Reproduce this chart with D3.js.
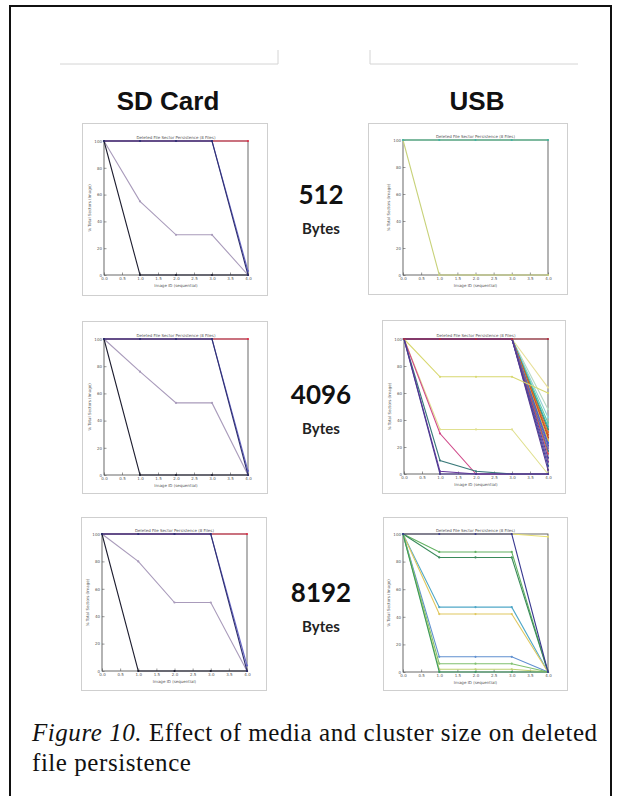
<html lang="en">
<head>
    <meta charset="UTF-8">
    <title>Figure 10</title>
    <script src="https://cdn.jsdelivr.net/npm/d3@7"></script>
    <style>
        body{ margin:0; background:#fff; }
        .frame{ fill:none; stroke:#cfcfcf; stroke-width:1px; }
        .plotbox{ fill:#fff; stroke:#444; stroke-width:0.8px; }
        .series{ fill:none; stroke-width:1.1px; }
        .tiny{ font-family:"DejaVu Sans", sans-serif; font-size:4px; fill:#555; }
        .axis path{ display:none; }
        .axis line{ stroke:#555; stroke-width:0.6px; }
        .axis text{ font-family:"DejaVu Sans", sans-serif; font-size:4px; fill:#555; }
        .head{ font-family:"Liberation Sans", Arial, sans-serif; font-weight:bold; font-size:26px; fill:#111; }
        .size{ font-family:Lato, "Open Sans", sans-serif; font-weight:bold; font-size:26px; fill:#111; }
        .bytes{ font-family:Lato, "Open Sans", sans-serif; font-weight:bold; font-size:15px; fill:#222; }
        .caption{ font-family:"Liberation Serif", "DejaVu Serif", serif; font-size:25px; letter-spacing:0.55px; fill:#111; }
    </style>
</head>
<body>
<svg id="svg"></svg>
<script>
    var WIDTH = 619;
    var HEIGHT = 796;

    // ----- data -----
    var mediaNames = ["SD Card", "USB"];
    var clusterSizes = ["512", "4096", "8192"];
    var sizeUnit = "Bytes";
    var imageIds = [0, 1, 2, 3, 4];
    var xTicks = [0, 0.5, 1, 1.5, 2, 2.5, 3, 3.5, 4];
    var yTicks = [0, 20, 40, 60, 80, 100];
    var plotTitle = "Deleted File Sector Persistence (8 Files)";
    var xLabel = "Image ID (sequential)";
    var yLabel = "% Total Sectors (Image)";
    var captionLabel = "Figure 10.";
    var captionLines = [" Effect of media and cluster size on deleted", "file persistence"];

    // SD card, 512 bytes
    var sd512 = [
        [100, 100, 100, 100, 100],
        [100, 55, 30, 30, 0],
        [100, 100, 100, 100, 3],
        [100, 0, 0, 0, 0],
        [100, 100, 100, 100, 0]
    ];
    // SD card, 4096 bytes
    var sd4096 = [
        [100, 100, 100, 100, 100],
        [100, 76, 53, 53, 0],
        [100, 100, 100, 100, 3],
        [100, 0, 0, 0, 0],
        [100, 100, 100, 100, 0]
    ];
    // SD card, 8192 bytes
    var sd8192 = [
        [100, 100, 100, 100, 100],
        [100, 80, 50, 50, 0],
        [100, 100, 100, 100, 4],
        [100, 0, 0, 0, 0],
        [100, 100, 100, 100, 0]
    ];
    // USB, 512 bytes
    var usb512 = [
        [100, 0, 0, 0, 0],
        [100, 100, 100, 100, 100],
        [100, 100, 100, 100, 100]
    ];
    // USB, 4096 bytes
    var usb4096 = [
        [100, 100, 100, 100, 64],
        [100, 100, 100, 100, 48],
        [100, 100, 100, 100, 42],
        [100, 100, 100, 100, 38],
        [100, 100, 100, 100, 35],
        [100, 100, 100, 100, 33],
        [100, 100, 100, 100, 31],
        [100, 100, 100, 100, 29],
        [100, 100, 100, 100, 27],
        [100, 100, 100, 100, 25],
        [100, 100, 100, 100, 23],
        [100, 100, 100, 100, 21],
        [100, 100, 100, 100, 19],
        [100, 100, 100, 100, 17],
        [100, 100, 100, 100, 15],
        [100, 100, 100, 100, 12],
        [100, 100, 100, 100, 9],
        [100, 100, 100, 100, 6],
        [100, 100, 100, 100, 3],
        [100, 72, 72, 72, 60],
        [100, 33, 33, 33, 0],
        [100, 30, 0, 0, 0],
        [100, 10, 2, 0, 0],
        [100, 2, 0, 0, 0],
        [100, 0, 0, 0, 0],
        [100, 100, 100, 100, 100]
    ];
    // USB, 8192 bytes
    var usb8192 = [
        [100, 100, 100, 100, 98],
        [100, 87, 87, 87, 0],
        [100, 83, 83, 83, 0],
        [100, 47, 47, 47, 0],
        [100, 42, 42, 42, 0],
        [100, 11, 11, 11, 0],
        [100, 6, 6, 6, 0],
        [100, 2, 2, 2, 0],
        [100, 0, 0, 0, 0],
        [100, 100, 100, 100, 0]
    ];

    // ----- styles -----
    var sdColors = ["#e0304a", "#a99bbb", "#6868c8", "#1e1e30", "#303070"];
    var usb512Colors = ["#c8d27a", "#c8d27a", "#3fb0a8"];
    var usb4096Colors = ["#e8e09a", "#b8d8c0", "#8fd0d8", "#6ad0a0", "#40b0c8", "#2a9a70",
                         "#e07830", "#d05a28", "#c84020", "#e8c040", "#3a70c8", "#5a50b8",
                         "#8a60c0", "#2a8a8a", "#e05050", "#4a4aa0", "#7a40a0", "#3050a0",
                         "#5a3a90", "#d8d870", "#e0e090", "#d04a8a", "#3a7a7a", "#6a3aa0",
                         "#4a3a90", "#b03040"];
    var usb8192Colors = ["#e8e070", "#60b060", "#3a8a5a", "#50a8c8", "#e0c860",
                         "#6090d0", "#80c070", "#c0d070", "#3a9a60", "#3a3a90"];

    // ----- layout -----
    var panels = [
        {series: sd512,   colors: sdColors,      frame: [82, 123, 267, 295], plot: [104, 141, 248, 275]},
        {series: sd4096,  colors: sdColors,      frame: [82, 321, 267, 493], plot: [104, 339, 248, 475]},
        {series: sd8192,  colors: sdColors,      frame: [81, 517, 266, 690], plot: [102, 534, 247, 671]},
        {series: usb512,  colors: usb512Colors,  frame: [368, 123, 567, 294], plot: [403, 140, 548, 275]},
        {series: usb4096, colors: usb4096Colors, frame: [382, 320, 565, 493], plot: [404, 339, 548, 474]},
        {series: usb8192, colors: usb8192Colors, frame: [383, 517, 567, 690], plot: [403, 534, 548, 672]}
    ];

    var svg = d3.select("#svg")
                .attr("width", WIDTH)
                .attr("height", HEIGHT);

    // page border
    svg.append("path")
       .attr("d", "M10,800 L10,6 L611,6 L611,800")
       .attr("fill", "none")
       .attr("stroke", "#111")
       .attr("stroke-width", 2);

    // thin rules above the column headers
    svg.append("path")
       .attr("d", "M60,64 L278,64 L278,50 M370,50 L370,64 L578,64")
       .attr("fill", "none")
       .attr("stroke", "#d4d4d4")
       .attr("stroke-width", 1);

    var headX = [168, 477];
    svg.selectAll(".head")
       .data(mediaNames)
       .enter()
       .append("text")
       .attr("class", "head")
       .attr("x", function(d, i){ return headX[i]; })
       .attr("y", 110)
       .attr("text-anchor", "middle")
       .text(function(d){ return d; });

    var sizeY = [204, 404, 602];
    clusterSizes.forEach(function(s, i){
        svg.append("text")
           .attr("class", "size")
           .attr("x", 321)
           .attr("y", sizeY[i])
           .attr("text-anchor", "middle")
           .text(s);
        svg.append("text")
           .attr("class", "bytes")
           .attr("x", 321)
           .attr("y", sizeY[i] + 30)
           .attr("text-anchor", "middle")
           .text(sizeUnit);
    });

    // small matplotlib-style plots
    panels.forEach(function(p){
        var g = svg.append("g");

        g.append("rect")
         .attr("class", "frame")
         .attr("x", p.frame[0] + 0.5)
         .attr("y", p.frame[1] + 0.5)
         .attr("width", p.frame[2] - p.frame[0])
         .attr("height", p.frame[3] - p.frame[1]);

        var xScale = d3.scaleLinear().domain([0, 4]).range([p.plot[0], p.plot[2]]);
        var yScale = d3.scaleLinear().domain([0, 100]).range([p.plot[3], p.plot[1]]);

        g.append("rect")
         .attr("class", "plotbox")
         .attr("x", xScale(0))
         .attr("y", yScale(100))
         .attr("width", xScale(4) - xScale(0))
         .attr("height", yScale(0) - yScale(100));

        g.append("g")
         .attr("class", "axis")
         .attr("transform", "translate(0," + yScale(0) + ")")
         .call(d3.axisBottom(xScale).tickValues(xTicks).tickSize(-2.5).tickPadding(2)
                 .tickFormat(d3.format(".1f")));

        g.append("g")
         .attr("class", "axis")
         .attr("transform", "translate(" + xScale(0) + ",0)")
         .call(d3.axisLeft(yScale).tickValues(yTicks).tickSize(-2.5).tickPadding(2));

        g.append("text")
         .attr("class", "tiny")
         .attr("x", (xScale(0) + xScale(4)) / 2)
         .attr("y", yScale(100) - 2)
         .attr("text-anchor", "middle")
         .text(plotTitle);

        g.append("text")
         .attr("class", "tiny")
         .attr("x", (xScale(0) + xScale(4)) / 2)
         .attr("y", yScale(0) + 12)
         .attr("text-anchor", "middle")
         .text(xLabel);

        g.append("text")
         .attr("class", "tiny")
         .attr("transform", "translate(" + (xScale(0) - 13) + "," + ((yScale(0) + yScale(100)) / 2) + ") rotate(-90)")
         .attr("text-anchor", "middle")
         .text(yLabel);

        var line = d3.line()
                     .x(function(d, i){ return xScale(imageIds[i]); })
                     .y(function(d){ return yScale(d); });

        p.series.forEach(function(vals, k){
            var c = p.colors[k % p.colors.length];
            g.append("path")
             .datum(vals)
             .attr("class", "series")
             .attr("stroke", c)
             .attr("d", line);
            g.selectAll(null)
             .data(vals)
             .enter()
             .append("circle")
             .attr("cx", function(d, i){ return xScale(imageIds[i]); })
             .attr("cy", function(d){ return yScale(d); })
             .attr("r", 1.1)
             .attr("fill", c);
        });
    });

    // caption
    var cap = svg.append("text")
                 .attr("class", "caption")
                 .attr("x", 32)
                 .attr("y", 741);
    cap.append("tspan").attr("font-style", "italic").text(captionLabel);
    cap.append("tspan").text(captionLines[0]);
    svg.append("text")
       .attr("class", "caption")
       .attr("x", 32)
       .attr("y", 771)
       .text(captionLines[1]);
</script>
</body>
</html>
